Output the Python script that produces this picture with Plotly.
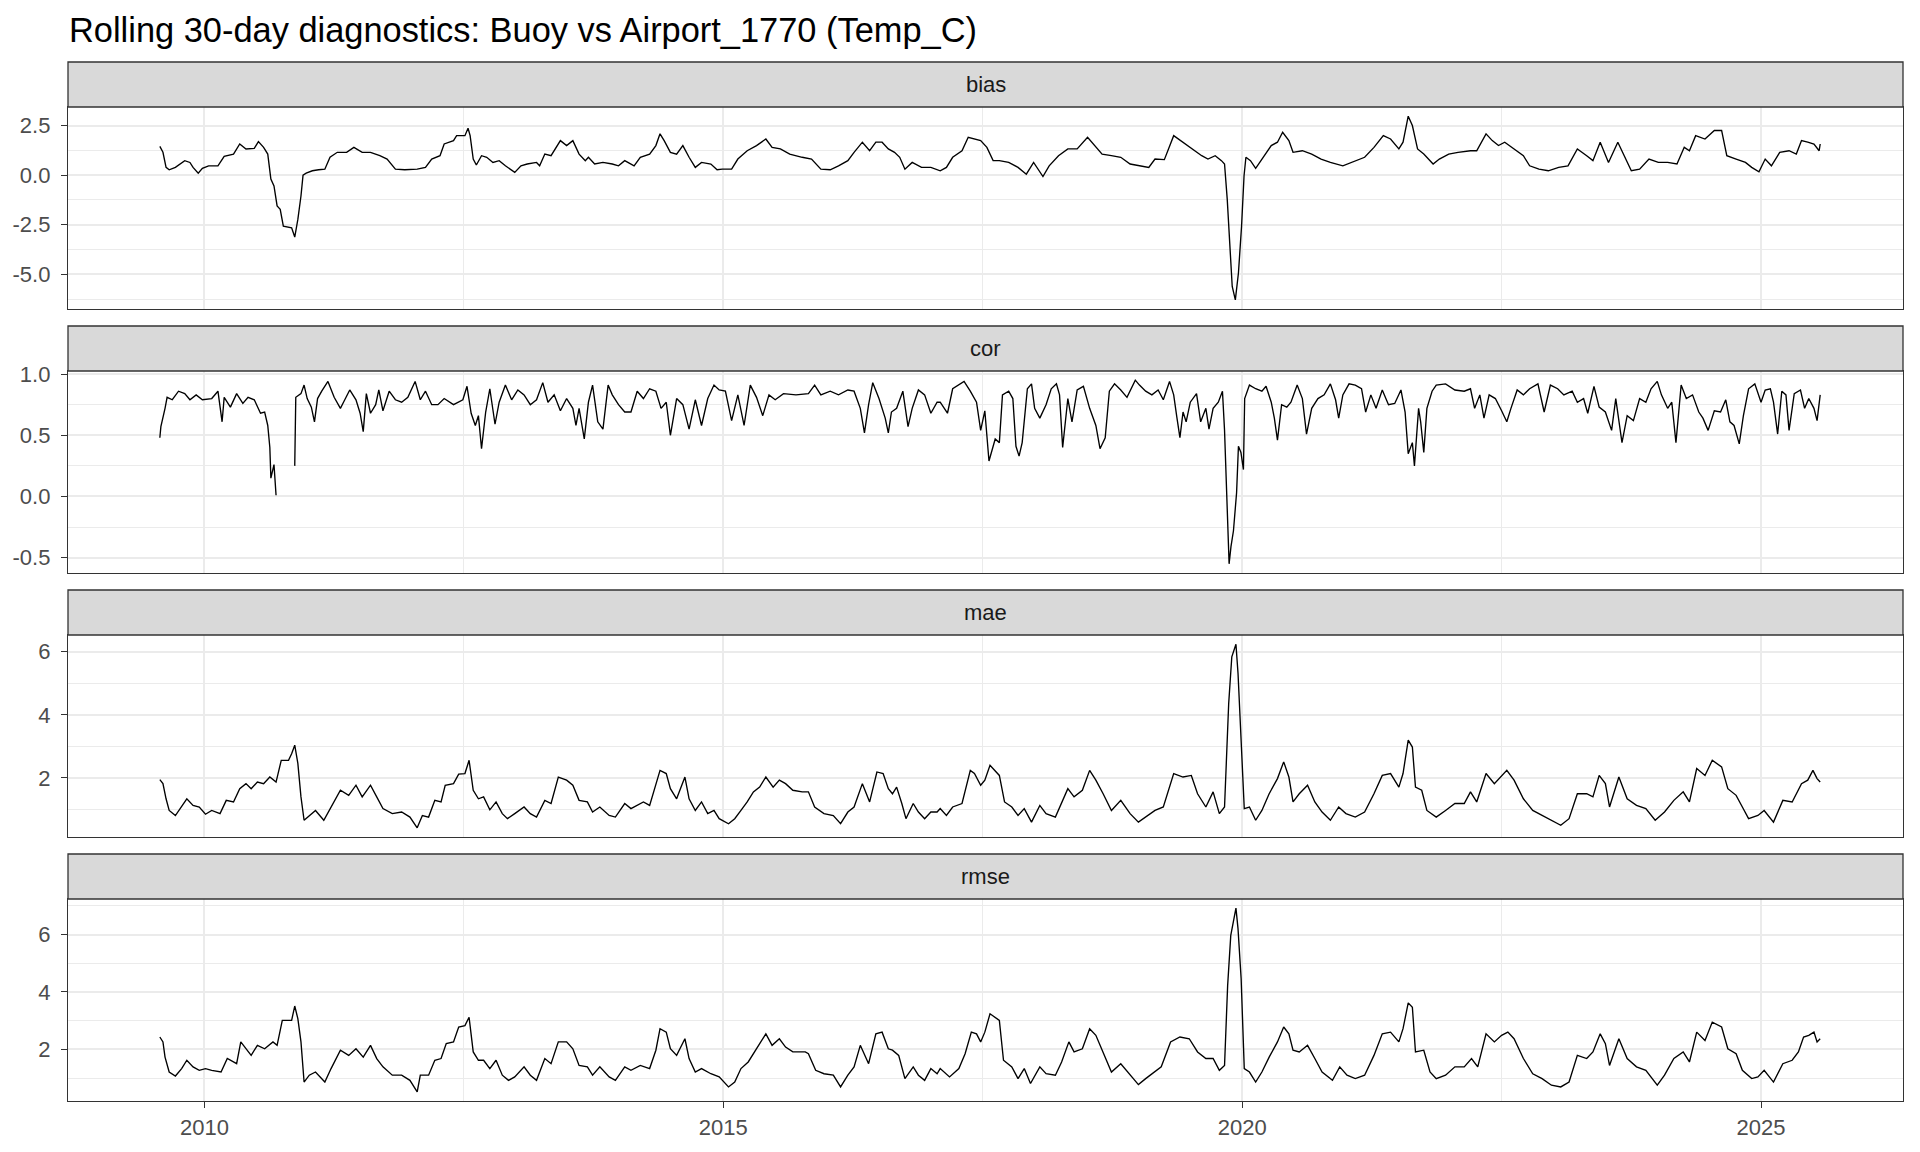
import plotly.graph_objects as go

# ---------------- data (decimal years, metric values) ----------------
metric_names = ["bias", "cor", "mae", "rmse"]
x_tick_vals = [2010, 2015, 2020, 2025]
x_tick_text = ["2010", "2015", "2020", "2025"]

bias_t = [
    2009.57, 2009.60, 2009.63, 2009.66, 2009.72, 2009.78, 2009.81, 2009.86, 2009.89, 2009.94,
    2009.98, 2010.04, 2010.13, 2010.19, 2010.28, 2010.34, 2010.40, 2010.48, 2010.52, 2010.57,
    2010.61, 2010.64, 2010.67, 2010.70, 2010.73, 2010.76, 2010.81, 2010.84, 2010.87, 2010.90,
    2010.93, 2010.95, 2010.98, 2011.04, 2011.10, 2011.16, 2011.21, 2011.28, 2011.37, 2011.44,
    2011.52, 2011.60, 2011.69, 2011.76, 2011.84, 2011.93, 2012.05, 2012.13, 2012.19, 2012.27,
    2012.31, 2012.40, 2012.43, 2012.51, 2012.54, 2012.56, 2012.59, 2012.62, 2012.67, 2012.72,
    2012.78, 2012.84, 2012.90, 2012.99, 2013.05, 2013.11, 2013.20, 2013.23, 2013.28, 2013.34,
    2013.43, 2013.49, 2013.55, 2013.61, 2013.67, 2013.70, 2013.76, 2013.84, 2013.93, 2013.99,
    2014.05, 2014.14, 2014.20, 2014.29, 2014.35, 2014.39, 2014.43, 2014.49, 2014.55, 2014.61,
    2014.67, 2014.73, 2014.79, 2014.88, 2014.94, 2014.99, 2015.08, 2015.14, 2015.23, 2015.32,
    2015.41, 2015.47, 2015.55, 2015.64, 2015.76, 2015.85, 2015.94, 2016.03, 2016.11, 2016.20,
    2016.26, 2016.34, 2016.41, 2016.47, 2016.53, 2016.59, 2016.65, 2016.70, 2016.75, 2016.82,
    2016.91, 2017.00,
    2017.09, 2017.15, 2017.21, 2017.30, 2017.36, 2017.42, 2017.48, 2017.54, 2017.60, 2017.66,
    2017.75, 2017.84, 2017.92, 2017.99, 2018.08, 2018.14, 2018.23, 2018.32, 2018.41, 2018.51,
    2018.59, 2018.65, 2018.74, 2018.83, 2018.92, 2019.01, 2019.10, 2019.16, 2019.25, 2019.34,
    2019.43, 2019.52, 2019.61, 2019.67, 2019.74, 2019.80, 2019.83, 2019.856, 2019.886, 2019.904,
    2019.934, 2019.964, 2019.994, 2020.018, 2020.036, 2020.08, 2020.13, 2020.19, 2020.28, 2020.34,
    2020.39, 2020.45, 2020.49, 2020.58, 2020.67, 2020.76, 2020.85, 2020.97, 2021.06, 2021.18,
    2021.27, 2021.36, 2021.43, 2021.51, 2021.55, 2021.60, 2021.64, 2021.69, 2021.75, 2021.84,
    2021.90, 2021.99, 2022.08, 2022.20, 2022.26, 2022.35, 2022.41, 2022.47, 2022.53, 2022.62,
    2022.71, 2022.77, 2022.86, 2022.95, 2023.05, 2023.14, 2023.23, 2023.32, 2023.38, 2023.45,
    2023.53, 2023.62, 2023.68, 2023.75, 2023.83, 2023.92, 2024.01, 2024.10, 2024.19, 2024.26,
    2024.31, 2024.37, 2024.46, 2024.55, 2024.62, 2024.67, 2024.76, 2024.85, 2024.91, 2024.98,
    2025.04, 2025.10, 2025.18, 2025.27, 2025.34, 2025.39, 2025.45, 2025.51, 2025.56, 2025.57,
]
bias_v = [
    1.45, 1.15, 0.39, 0.27, 0.39, 0.64, 0.73, 0.64, 0.39, 0.10,
    0.34, 0.47, 0.47, 0.95, 1.06, 1.57, 1.32, 1.35, 1.69, 1.40,
    1.06, -0.20, -0.54, -1.55, -1.72, -2.57, -2.60, -2.65, -3.12, -2.23,
    -1.05, 0.00, 0.10, 0.22, 0.27, 0.30, 0.90, 1.15, 1.15, 1.40,
    1.15, 1.15, 0.98, 0.81, 0.30, 0.27, 0.30, 0.39, 0.81, 0.98,
    1.57, 1.74, 1.99, 1.99, 2.36, 1.99, 0.81, 0.51, 0.98, 0.90,
    0.64, 0.73, 0.47, 0.14, 0.47, 0.56, 0.64, 0.47, 1.06, 0.98,
    1.74, 1.49, 1.74, 1.06, 0.73, 0.90, 0.56, 0.64, 0.56, 0.47,
    0.73, 0.47, 0.90, 1.06, 1.49, 2.08, 1.74, 1.15, 1.06, 1.49,
    0.90, 0.39, 0.64, 0.56, 0.27, 0.30, 0.30, 0.81, 1.23, 1.49,
    1.82, 1.40, 1.32, 1.06, 0.90, 0.81, 0.30, 0.27, 0.47, 0.73,
    1.15, 1.66, 1.23, 1.66, 1.66, 1.32, 1.15, 0.90, 0.30, 0.64,
    0.39, 0.39,
    0.22, 0.39, 0.90, 1.23, 1.91, 1.82, 1.74, 1.40, 0.73, 0.73,
    0.64, 0.39, 0.05, 0.64, -0.07, 0.47, 0.98, 1.32, 1.32, 1.91,
    1.40, 1.06, 0.98, 0.90, 0.56, 0.47, 0.39, 0.81, 0.78, 1.99,
    1.66, 1.32, 0.98, 0.81, 0.98, 0.73, 0.56, -1.22, -3.75, -5.61,
    -6.28, -4.93, -2.57, -0.03, 0.90, 0.73, 0.34, 0.81, 1.49, 1.66,
    2.16, 1.74, 1.15, 1.23, 1.06, 0.81, 0.64, 0.47, 0.64, 0.90,
    1.40, 1.99, 1.82, 1.32, 1.66, 2.97, 2.50, 1.32, 1.06, 0.56,
    0.81, 1.06, 1.15, 1.23, 1.23, 2.08, 1.74, 1.49, 1.66, 1.32,
    0.98, 0.47, 0.30, 0.22, 0.39, 0.47, 1.32, 0.98, 0.73, 1.66,
    0.64, 1.66, 0.98, 0.22, 0.30, 0.81, 0.64, 0.64, 0.56, 1.40,
    1.23, 1.99, 1.82, 2.25, 2.25, 0.98, 0.81, 0.64, 0.39, 0.17,
    0.81, 0.47, 1.15, 1.23, 1.06, 1.74, 1.66, 1.57, 1.23, 1.57,
]

cor_t = [
    2009.57, 2009.58, 2009.62, 2009.64, 2009.69, 2009.75, 2009.81, 2009.86, 2009.92, 2009.98,
    2010.07, 2010.13, 2010.17, 2010.19, 2010.25, 2010.31, 2010.37, 2010.42, 2010.48, 2010.54,
    2010.58, 2010.61, 2010.63, 2010.64, 2010.67, 2010.69, 2010.78, 2010.87, 2010.88, 2010.93,
    2010.96, 2010.99, 2011.03, 2011.06, 2011.09, 2011.13, 2011.19, 2011.25, 2011.31, 2011.34,
    2011.40, 2011.46, 2011.50, 2011.53, 2011.56, 2011.60, 2011.65, 2011.68, 2011.72, 2011.78,
    2011.84, 2011.90, 2011.96, 2012.03, 2012.08, 2012.13, 2012.19, 2012.25, 2012.31, 2012.40,
    2012.49, 2012.53, 2012.57, 2012.61, 2012.64, 2012.67, 2012.71, 2012.75, 2012.80, 2012.84,
    2012.90, 2012.96, 2013.02, 2013.08, 2013.14, 2013.20, 2013.26, 2013.31, 2013.37, 2013.43,
    2013.49, 2013.55, 2013.58, 2013.61, 2013.66, 2013.70, 2013.74, 2013.79, 2013.84, 2013.89,
    2013.93, 2013.99, 2014.05, 2014.11, 2014.17, 2014.23, 2014.29, 2014.35, 2014.40, 2014.45,
    2014.49, 2014.55, 2014.61, 2014.67, 2014.73, 2014.79, 2014.85, 2014.91, 2014.96, 2015.02,
    2015.08, 2015.14, 2015.20, 2015.26, 2015.32, 2015.38, 2015.44, 2015.50, 2015.58, 2015.70,
    2015.82, 2015.88, 2015.94, 2016.03, 2016.11, 2016.20, 2016.26, 2016.32, 2016.36, 2016.40,
    2016.44, 2016.50, 2016.56, 2016.59, 2016.62, 2016.67, 2016.73, 2016.78, 2016.82, 2016.88,
    2016.94, 2017.00, 2017.06,
    2017.09, 2017.16, 2017.21, 2017.27, 2017.32, 2017.38, 2017.44, 2017.48, 2017.52, 2017.56,
    2017.62, 2017.66, 2017.69, 2017.75, 2017.79, 2017.82, 2017.85, 2017.88, 2017.93, 2017.97,
    2018.00, 2018.05, 2018.11, 2018.16, 2018.21, 2018.24, 2018.27, 2018.32, 2018.36, 2018.41,
    2018.47, 2018.53, 2018.59, 2018.63, 2018.68, 2018.72, 2018.77, 2018.83, 2018.89, 2018.97,
    2019.01, 2019.07, 2019.13, 2019.19, 2019.24, 2019.30, 2019.34, 2019.37, 2019.40, 2019.43,
    2019.46, 2019.50, 2019.56, 2019.60, 2019.65, 2019.68, 2019.72, 2019.77, 2019.81, 2019.83,
    2019.856, 2019.874, 2019.892, 2019.916, 2019.946, 2019.964, 2019.988, 2020.012, 2020.024, 2020.07,
    2020.13, 2020.19, 2020.23, 2020.28, 2020.31, 2020.34, 2020.38, 2020.43, 2020.47, 2020.53,
    2020.58, 2020.62, 2020.67, 2020.73, 2020.79, 2020.85, 2020.90, 2020.93, 2020.97, 2021.03,
    2021.09, 2021.15, 2021.19, 2021.24, 2021.29, 2021.35, 2021.41, 2021.47, 2021.53, 2021.57,
    2021.60, 2021.64, 2021.66, 2021.70, 2021.72, 2021.75, 2021.78, 2021.83, 2021.87, 2021.96,
    2022.05, 2022.14, 2022.20, 2022.24, 2022.29, 2022.33, 2022.38, 2022.44, 2022.50, 2022.55,
    2022.59, 2022.65, 2022.71, 2022.77, 2022.85, 2022.91, 2022.97, 2023.04, 2023.10, 2023.18,
    2023.23, 2023.29, 2023.33, 2023.39, 2023.44, 2023.50, 2023.56, 2023.60, 2023.66, 2023.71,
    2023.77, 2023.83, 2023.89, 2023.94, 2024.00, 2024.04, 2024.10, 2024.14, 2024.18, 2024.23,
    2024.28, 2024.34, 2024.40, 2024.44, 2024.49, 2024.55, 2024.61, 2024.66, 2024.70, 2024.74,
    2024.79, 2024.83, 2024.88, 2024.94, 2025.00, 2025.04, 2025.09, 2025.12, 2025.16, 2025.20,
    2025.24, 2025.27, 2025.32, 2025.38, 2025.42, 2025.46, 2025.51, 2025.54, 2025.57,
]
cor_v = [
    0.48, 0.57, 0.72, 0.81, 0.79, 0.86, 0.84, 0.79, 0.83, 0.79,
    0.80, 0.86, 0.61, 0.81, 0.73, 0.84, 0.76, 0.81, 0.79, 0.68,
    0.69, 0.58, 0.40, 0.15, 0.26, 0.01, None, 0.25, 0.81, 0.84,
    0.91, 0.80, 0.73, 0.61, 0.80, 0.86, 0.94, 0.81, 0.72, 0.77,
    0.87, 0.79, 0.68, 0.53, 0.84, 0.68, 0.75, 0.87, 0.70, 0.86,
    0.79, 0.77, 0.81, 0.94, 0.79, 0.86, 0.75, 0.75, 0.80, 0.75,
    0.79, 0.90, 0.68, 0.58, 0.66, 0.39, 0.69, 0.88, 0.59, 0.77,
    0.91, 0.79, 0.87, 0.83, 0.75, 0.79, 0.93, 0.77, 0.83, 0.70,
    0.80, 0.72, 0.58, 0.72, 0.47, 0.77, 0.91, 0.61, 0.55, 0.91,
    0.83, 0.75, 0.69, 0.69, 0.86, 0.80, 0.88, 0.86, 0.72, 0.77,
    0.50, 0.80, 0.75, 0.55, 0.79, 0.58, 0.80, 0.91, 0.87, 0.86,
    0.62, 0.83, 0.58, 0.91, 0.81, 0.66, 0.83, 0.79, 0.84, 0.83,
    0.84, 0.91, 0.83, 0.86, 0.83, 0.87, 0.86, 0.72, 0.52, 0.75,
    0.93, 0.80, 0.64, 0.52, 0.69, 0.72, 0.86, 0.57, 0.72, 0.87,
    0.83, 0.68, 0.77,
    0.77, 0.68, 0.88, 0.91, 0.94, 0.86, 0.77, 0.54, 0.70, 0.29,
    0.47, 0.44, 0.83, 0.86, 0.80, 0.41, 0.33, 0.44, 0.88, 0.92,
    0.72, 0.64, 0.75, 0.88, 0.92, 0.83, 0.40, 0.80, 0.61, 0.87,
    0.90, 0.72, 0.58, 0.39, 0.48, 0.86, 0.92, 0.87, 0.81, 0.95,
    0.91, 0.86, 0.83, 0.87, 0.79, 0.94, 0.83, 0.65, 0.48, 0.69,
    0.61, 0.77, 0.84, 0.61, 0.72, 0.55, 0.72, 0.77, 0.86, 0.54,
    -0.19, -0.55, -0.41, -0.28, 0.03, 0.41, 0.36, 0.22, 0.80, 0.91,
    0.88, 0.86, 0.90, 0.77, 0.64, 0.46, 0.75, 0.73, 0.77, 0.91,
    0.80, 0.51, 0.72, 0.80, 0.83, 0.92, 0.79, 0.64, 0.83, 0.92,
    0.91, 0.88, 0.69, 0.83, 0.72, 0.87, 0.75, 0.76, 0.87, 0.69,
    0.35, 0.44, 0.25, 0.72, 0.61, 0.36, 0.72, 0.86, 0.91, 0.92,
    0.87, 0.86, 0.88, 0.72, 0.83, 0.64, 0.83, 0.80, 0.70, 0.61,
    0.72, 0.87, 0.83, 0.88, 0.92, 0.69, 0.91, 0.88, 0.83, 0.86,
    0.77, 0.80, 0.68, 0.90, 0.73, 0.69, 0.54, 0.80, 0.44, 0.66,
    0.62, 0.80, 0.77, 0.88, 0.94, 0.83, 0.72, 0.77, 0.44, 0.91,
    0.80, 0.83, 0.69, 0.64, 0.54, 0.70, 0.69, 0.79, 0.61, 0.58,
    0.43, 0.66, 0.88, 0.92, 0.77, 0.87, 0.88, 0.77, 0.51, 0.86,
    0.83, 0.54, 0.84, 0.87, 0.72, 0.80, 0.72, 0.62, 0.83,
]

mae_t = [
    2009.57, 2009.60, 2009.63, 2009.66, 2009.72, 2009.78, 2009.83, 2009.89, 2009.95, 2010.01,
    2010.07, 2010.15, 2010.21, 2010.28, 2010.34, 2010.40, 2010.45, 2010.51, 2010.57, 2010.63,
    2010.69, 2010.74, 2010.81, 2010.84, 2010.87, 2010.90, 2010.93, 2010.96, 2011.01, 2011.07,
    2011.15, 2011.22, 2011.31, 2011.39, 2011.46, 2011.52, 2011.60, 2011.66, 2011.72, 2011.81,
    2011.90, 2011.98, 2012.05, 2012.10, 2012.16, 2012.22, 2012.28, 2012.32, 2012.40, 2012.45,
    2012.51, 2012.55, 2012.59, 2012.64, 2012.69, 2012.75, 2012.81, 2012.87, 2012.92, 2012.99,
    2013.08, 2013.14, 2013.20, 2013.28, 2013.34, 2013.41, 2013.49, 2013.55, 2013.61, 2013.69,
    2013.74, 2013.81, 2013.90, 2013.96, 2014.05, 2014.11, 2014.17, 2014.23, 2014.29, 2014.35,
    2014.39, 2014.45, 2014.49, 2014.55, 2014.63, 2014.67, 2014.73, 2014.79, 2014.85, 2014.91,
    2014.96, 2015.05, 2015.11, 2015.17, 2015.23, 2015.29, 2015.35, 2015.41, 2015.48, 2015.54,
    2015.60, 2015.67, 2015.76, 2015.82, 2015.88, 2015.97, 2016.06, 2016.13, 2016.20, 2016.26,
    2016.34, 2016.41, 2016.48, 2016.54, 2016.59, 2016.63, 2016.67, 2016.72, 2016.76, 2016.83,
    2016.88, 2016.94, 2017.00, 2017.06,
    2017.09, 2017.15, 2017.21, 2017.30, 2017.38, 2017.42, 2017.48, 2017.52, 2017.57, 2017.66,
    2017.71, 2017.78, 2017.84, 2017.90, 2017.97, 2018.05, 2018.11, 2018.20, 2018.26, 2018.32,
    2018.38, 2018.46, 2018.53, 2018.59, 2018.66, 2018.74, 2018.83, 2018.92, 2019.00, 2019.07,
    2019.16, 2019.24, 2019.34, 2019.43, 2019.51, 2019.57, 2019.65, 2019.72, 2019.78, 2019.83,
    2019.87, 2019.90, 2019.94, 2019.96, 2019.99, 2020.02, 2020.07, 2020.13, 2020.19, 2020.26,
    2020.34, 2020.40, 2020.45, 2020.49, 2020.55, 2020.63, 2020.70, 2020.77, 2020.85, 2020.93,
    2021.00, 2021.09, 2021.18, 2021.27, 2021.35, 2021.43, 2021.51, 2021.55, 2021.60, 2021.64,
    2021.67, 2021.73, 2021.78, 2021.87, 2021.96, 2022.05, 2022.14, 2022.20, 2022.26, 2022.35,
    2022.43, 2022.49, 2022.55, 2022.62, 2022.71, 2022.80, 2022.89, 2022.98, 2023.07, 2023.15,
    2023.23, 2023.32, 2023.38, 2023.44, 2023.50, 2023.54, 2023.63, 2023.71, 2023.80, 2023.89,
    2023.98, 2024.07, 2024.16, 2024.25, 2024.31, 2024.38, 2024.46, 2024.53, 2024.62, 2024.68,
    2024.76, 2024.82, 2024.88, 2024.97, 2025.03, 2025.12, 2025.21, 2025.30, 2025.39, 2025.45,
    2025.50, 2025.54, 2025.57,
]
mae_v = [
    1.95, 1.82, 1.34, 0.97, 0.81, 1.08, 1.34, 1.13, 1.08, 0.85,
    0.97, 0.87, 1.29, 1.24, 1.66, 1.82, 1.66, 1.87, 1.82, 2.03,
    1.87, 2.56, 2.56, 2.77, 3.04, 2.46, 1.40, 0.66, 0.81, 0.97,
    0.66, 1.08, 1.61, 1.45, 1.77, 1.40, 1.77, 1.40, 1.03, 0.87,
    0.92, 0.76, 0.42, 0.81, 0.76, 1.29, 1.24, 1.77, 1.82, 2.12,
    2.14, 2.56, 1.61, 1.34, 1.40, 0.99, 1.24, 0.87, 0.71, 0.87,
    1.08, 0.87, 0.76, 1.29, 1.19, 2.03, 1.93, 1.77, 1.29, 1.24,
    0.92, 1.08, 0.81, 0.76, 1.19, 1.03, 1.13, 1.24, 1.13, 1.77,
    2.24, 2.14, 1.66, 1.34, 2.03, 1.34, 0.97, 1.24, 0.87, 0.97,
    0.71, 0.55, 0.71, 0.97, 1.24, 1.56, 1.71, 2.03, 1.71, 1.93,
    1.82, 1.61, 1.56, 1.56, 1.08, 0.87, 0.81, 0.55, 0.92, 1.08,
    1.82, 1.24, 2.19, 2.14, 1.66, 1.50, 1.71, 1.19, 0.71, 1.19,
    0.92, 0.71, 0.92, 0.92,
    1.03, 0.81, 1.08, 1.19, 2.24, 2.14, 1.77, 1.93, 2.40, 2.08,
    1.24, 1.08, 0.81, 1.03, 0.60, 1.13, 0.87, 0.76, 1.19, 1.66,
    1.40, 1.61, 2.24, 1.93, 1.50, 0.97, 1.29, 0.87, 0.60, 0.76,
    0.97, 1.08, 2.14, 2.03, 2.08, 1.50, 1.08, 1.56, 0.87, 1.08,
    4.36, 5.84, 6.24, 5.31, 3.20, 1.03, 1.08, 0.66, 0.97, 1.50,
    1.98, 2.51, 2.03, 1.24, 1.50, 1.77, 1.24, 0.92, 0.66, 1.08,
    0.87, 0.76, 0.92, 1.50, 2.08, 2.14, 1.71, 2.14, 3.20, 2.98,
    1.71, 1.61, 0.97, 0.76, 0.97, 1.19, 1.19, 1.56, 1.24, 2.14,
    1.82, 2.03, 2.24, 1.93, 1.34, 0.97, 0.81, 0.66, 0.50, 0.71,
    1.50, 1.50, 1.40, 2.08, 1.82, 1.08, 2.03, 1.34, 1.13, 1.03,
    0.66, 0.92, 1.29, 1.56, 1.24, 2.30, 2.08, 2.56, 2.35, 1.66,
    1.45, 1.08, 0.71, 0.81, 0.97, 0.60, 1.29, 1.24, 1.82, 1.93,
    2.24, 1.98, 1.87,
]

rmse_t = [
    2009.57, 2009.60, 2009.62, 2009.66, 2009.72, 2009.78, 2009.83, 2009.89, 2009.95, 2010.01,
    2010.07, 2010.16, 2010.22, 2010.31, 2010.35, 2010.40, 2010.45, 2010.51, 2010.58, 2010.66,
    2010.70, 2010.75, 2010.84, 2010.87, 2010.90, 2010.93, 2010.96, 2011.01, 2011.07, 2011.16,
    2011.22, 2011.31, 2011.39, 2011.46, 2011.53, 2011.60, 2011.66, 2011.72, 2011.81, 2011.90,
    2011.98, 2012.05, 2012.08, 2012.16, 2012.22, 2012.28, 2012.33, 2012.40, 2012.45, 2012.51,
    2012.55, 2012.59, 2012.64, 2012.69, 2012.75, 2012.81, 2012.87, 2012.93, 2012.99, 2013.08,
    2013.14, 2013.20, 2013.28, 2013.34, 2013.41, 2013.49, 2013.55, 2013.61, 2013.69, 2013.74,
    2013.81, 2013.90, 2013.96, 2014.05, 2014.11, 2014.20, 2014.29, 2014.35, 2014.39, 2014.45,
    2014.49, 2014.55, 2014.63, 2014.67, 2014.73, 2014.79, 2014.88, 2014.96, 2015.05, 2015.11,
    2015.17, 2015.24, 2015.32, 2015.41, 2015.47, 2015.54, 2015.60, 2015.67, 2015.79, 2015.82,
    2015.89, 2015.97, 2016.06, 2016.13, 2016.20, 2016.26, 2016.32, 2016.40, 2016.47, 2016.53,
    2016.59, 2016.63, 2016.69, 2016.75, 2016.83, 2016.88, 2016.94, 2017.00, 2017.06,
    2017.09, 2017.18, 2017.27, 2017.33, 2017.39, 2017.44, 2017.48, 2017.52, 2017.57, 2017.66,
    2017.70, 2017.78, 2017.84, 2017.90, 2017.96, 2018.05, 2018.11, 2018.20, 2018.26, 2018.33,
    2018.38, 2018.46, 2018.53, 2018.59, 2018.66, 2018.74, 2018.83, 2018.92, 2019.00, 2019.07,
    2019.16, 2019.22, 2019.31, 2019.40, 2019.49, 2019.57, 2019.65, 2019.72, 2019.78, 2019.83,
    2019.86, 2019.89, 2019.94, 2019.96, 2019.99, 2020.02, 2020.07, 2020.13, 2020.19, 2020.26,
    2020.34, 2020.40, 2020.45, 2020.49, 2020.55, 2020.63, 2020.70, 2020.77, 2020.87, 2020.94,
    2021.01, 2021.09, 2021.18, 2021.27, 2021.35, 2021.43, 2021.51, 2021.55, 2021.60, 2021.64,
    2021.67, 2021.75, 2021.81, 2021.87, 2021.96, 2022.05, 2022.14, 2022.21, 2022.27, 2022.35,
    2022.43, 2022.50, 2022.56, 2022.62, 2022.71, 2022.80, 2022.89, 2022.98, 2023.07, 2023.15,
    2023.23, 2023.32, 2023.38, 2023.45, 2023.50, 2023.54, 2023.63, 2023.71, 2023.80, 2023.89,
    2024.00, 2024.07, 2024.16, 2024.25, 2024.31, 2024.38, 2024.46, 2024.53, 2024.62, 2024.68,
    2024.76, 2024.82, 2024.91, 2024.97, 2025.03, 2025.12, 2025.21, 2025.30, 2025.36, 2025.41,
    2025.46, 2025.51, 2025.54, 2025.57,
]
rmse_v = [
    2.43, 2.26, 1.73, 1.21, 1.07, 1.33, 1.62, 1.39, 1.27, 1.33,
    1.27, 1.21, 1.68, 1.50, 2.26, 2.02, 1.79, 2.14, 2.02, 2.26,
    2.14, 3.01, 3.01, 3.51, 3.07, 2.26, 0.86, 1.10, 1.21, 0.86,
    1.33, 1.97, 1.79, 2.02, 1.73, 2.14, 1.68, 1.39, 1.10, 1.10,
    0.92, 0.52, 1.10, 1.10, 1.62, 1.68, 2.20, 2.26, 2.78, 2.83,
    3.12, 1.91, 1.62, 1.62, 1.33, 1.62, 1.10, 0.92, 1.04, 1.39,
    1.10, 0.92, 1.68, 1.50, 2.26, 2.26, 2.02, 1.44, 1.39, 1.10,
    1.39, 1.04, 0.92, 1.39, 1.27, 1.44, 1.33, 1.97, 2.72, 2.60,
    2.02, 1.79, 2.37, 1.68, 1.21, 1.33, 1.15, 1.04, 0.69, 0.86,
    1.33, 1.56, 2.02, 2.54, 2.14, 2.37, 2.08, 1.91, 1.91, 1.85,
    1.27, 1.15, 1.10, 0.69, 1.10, 1.39, 2.14, 1.50, 2.54, 2.60,
    2.02, 1.97, 1.79, 0.98, 1.39, 1.10, 0.92, 1.33, 1.15,
    1.33, 1.04, 1.33, 1.85, 2.60, 2.54, 2.26, 2.60, 3.24, 3.01,
    1.62, 1.39, 0.98, 1.33, 0.81, 1.39, 1.15, 1.10, 1.56, 2.26,
    1.91, 2.02, 2.72, 2.49, 1.91, 1.21, 1.50, 1.10, 0.77, 0.98,
    1.21, 1.39, 2.26, 2.43, 2.37, 1.91, 1.68, 1.68, 1.27, 1.44,
    4.23, 5.97, 6.92, 6.20, 4.46, 1.33, 1.21, 0.86, 1.21, 1.73,
    2.26, 2.78, 2.54, 1.97, 1.91, 2.14, 1.68, 1.21, 0.92, 1.39,
    1.10, 0.98, 1.10, 1.79, 2.54, 2.60, 2.26, 2.72, 3.62, 3.47,
    1.91, 1.97, 1.21, 0.98, 1.10, 1.39, 1.39, 1.68, 1.39, 2.54,
    2.26, 2.49, 2.60, 2.37, 1.68, 1.15, 0.98, 0.75, 0.69, 0.86,
    1.79, 1.68, 1.91, 2.54, 2.20, 1.44, 2.37, 1.68, 1.39, 1.27,
    0.75, 1.10, 1.68, 1.91, 1.56, 2.60, 2.31, 2.95, 2.78, 2.02,
    1.85, 1.27, 0.98, 1.04, 1.27, 0.86, 1.50, 1.62, 1.91, 2.43,
    2.49, 2.60, 2.26, 2.37,
]

# y tick labels per panel
bias_ticks = [-5.0, -2.5, 0.0, 2.5]
bias_tick_text = ["-5.0", "-2.5", "0.0", "2.5"]
bias_minor = [-6.25, -3.75, -1.25, 1.25]
cor_ticks = [-0.5, 0.0, 0.5, 1.0]
cor_tick_text = ["-0.5", "0.0", "0.5", "1.0"]
cor_minor = [-0.25, 0.25, 0.75]
mae_ticks = [2, 4, 6]
mae_tick_text = ["2", "4", "6"]
mae_minor = [1, 3, 5]
rmse_ticks = [2, 4, 6]
rmse_tick_text = ["2", "4", "6"]
rmse_minor = [1, 3, 5, 7]
x_minor = [2007.5, 2012.5, 2017.5, 2022.5, 2027.5]

title_text = "Rolling 30-day diagnostics: Buoy vs Airport_1770 (Temp_C)"

# ---------------- layout geometry ----------------
# The page body has an 8px margin, so the figure is sized to fit inside it.
BODY = 8
W, H = 1920 - 2 * BODY, 1152 - 2 * BODY
ML = 68 - BODY
MT = 62 - BODY
MR = W - (1903 - BODY)
MB = H - (1101 - BODY)
STRIP, GAP = 45, 17
plot_h = H - MT - MB
panel_h = (plot_h - 4 * STRIP - 3 * GAP) / 4
x_range = [2008.685, 2026.368]

FONT = "Liberation Sans, Arial, Helvetica, sans-serif"
GRID = "#EBEBEB"
BORDER = "#333333"

panels = [
    (metric_names[0], bias_t, bias_v, bias_ticks, bias_tick_text, bias_minor),
    (metric_names[1], cor_t, cor_v, cor_ticks, cor_tick_text, cor_minor),
    (metric_names[2], mae_t, mae_v, mae_ticks, mae_tick_text, mae_minor),
    (metric_names[3], rmse_t, rmse_v, rmse_ticks, rmse_tick_text, rmse_minor),
]

fig = go.Figure()
shapes = []
annotations = []
layout_axes = {}

for i, (name, t, v, tv, tt, mv) in enumerate(panels):
    sfx = "" if i == 0 else str(i + 1)
    strip_top = MT + i * (STRIP + panel_h + GAP)
    p_top = strip_top + STRIP
    p_bot = p_top + panel_h
    d0 = 1 - (p_bot - MT) / plot_h
    d1 = 1 - (p_top - MT) / plot_h
    s1 = 1 - (strip_top - MT) / plot_h

    vals = [a for a in v if a is not None]
    lo, hi = min(vals), max(vals)
    pad = 0.05 * (hi - lo)

    fig.add_trace(go.Scatter(
        x=t, y=v, mode="lines",
        line=dict(color="#000000", width=1.35),
        connectgaps=False, hoverinfo="skip", showlegend=False,
        xaxis="x" + sfx, yaxis="y" + sfx,
    ))

    bottom = (i == len(panels) - 1)
    layout_axes["xaxis" + sfx] = dict(
        domain=[0, 1], anchor="y" + sfx, range=x_range,
        matches=None if i == 0 else "x",
        tickmode="array", tickvals=x_tick_vals, ticktext=x_tick_text,
        showticklabels=bottom, ticks="outside" if bottom else "",
        ticklen=6, tickwidth=1.3, tickcolor=BORDER,
        tickfont=dict(family=FONT, size=22, color="#4D4D4D"),
        showgrid=True, gridcolor=GRID, gridwidth=2,
        minor=dict(tickmode="array", tickvals=x_minor, showgrid=True,
                   gridcolor=GRID, gridwidth=1, ticks=""),
        showline=True, mirror=True, linecolor=BORDER, linewidth=1.3,
        zeroline=False, fixedrange=True,
    )
    layout_axes["yaxis" + sfx] = dict(
        domain=[d0, d1], anchor="x" + sfx,
        range=[lo - pad, hi + pad],
        tickmode="array", tickvals=tv, ticktext=tt,
        ticks="outside", ticklen=6, tickwidth=1.3, tickcolor=BORDER,
        ticklabelstandoff=6,
        tickfont=dict(family=FONT, size=22, color="#4D4D4D"),
        showgrid=True, gridcolor=GRID, gridwidth=2,
        minor=dict(tickmode="array", tickvals=mv, showgrid=True,
                   gridcolor=GRID, gridwidth=1, ticks=""),
        showline=True, mirror=True, linecolor=BORDER, linewidth=1.3,
        zeroline=False, fixedrange=True,
    )

    shapes.append(dict(
        type="rect", xref="paper", yref="paper",
        x0=0, x1=1, y0=d1, y1=s1,
        fillcolor="#D9D9D9", line=dict(color=BORDER, width=1.3), layer="above",
    ))
    annotations.append(dict(
        text=name, xref="paper", yref="paper",
        x=0.5, y=(d1 + s1) / 2, xanchor="center", yanchor="middle",
        showarrow=False, font=dict(family=FONT, size=22, color="#1A1A1A"),
    ))

fig.update_layout(
    width=W, height=H,
    margin=dict(l=ML, r=MR, t=MT, b=MB, pad=0, autoexpand=False),
    paper_bgcolor="white", plot_bgcolor="white",
    title=dict(text=title_text, xref="container", yref="container",
               x=(69 - BODY) / W, y=1 - (29.5 - BODY) / H,
               xanchor="left", yanchor="middle",
               font=dict(family=FONT, size=34.4, color="#000000")),
    shapes=shapes, annotations=annotations,
    showlegend=False,
    **layout_axes,
)

fig.write_html("out.html")
